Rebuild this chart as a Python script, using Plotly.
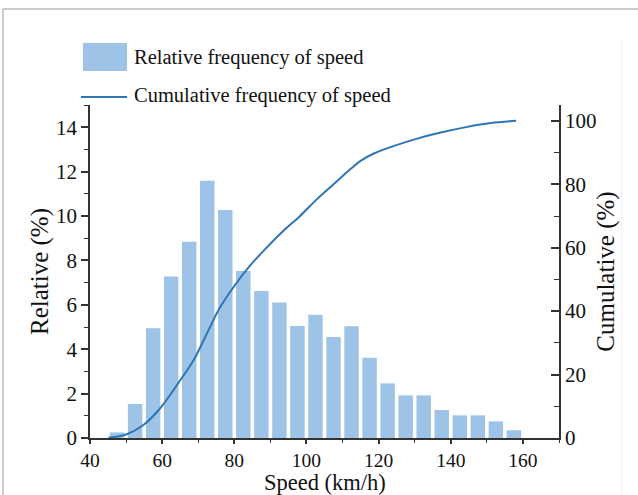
import plotly.graph_objects as go

# Bin centres (km/h) and relative frequency (%)
speed_bins = [47.5, 52.5, 57.5, 62.5, 67.5, 72.5, 77.5, 82.5, 87.5, 92.5, 97.5, 102.5,
              107.5, 112.5, 117.5, 122.5, 127.5, 132.5, 137.5, 142.5, 147.5, 152.5, 157.5]
relative_freq = [0.25, 1.53, 4.94, 7.27, 8.84, 11.59, 10.27, 7.52, 6.62, 6.10, 5.04, 5.55,
                 4.55, 5.03, 3.62, 2.46, 1.92, 1.92, 1.26, 1.02, 1.02, 0.75, 0.35]

# Cumulative frequency curve (%)
cum_speed = [45.1, 50.2, 54.8, 59.4, 65.0, 68.7, 72.4, 75.6, 79.8, 84.4, 89.1, 93.7,
             98.3, 103.0, 107.6, 112.2, 115.0, 118.7, 124.3, 130.7, 137.2, 144.6,
             151.1, 158.1]
cum_freq = [0.1, 1.2, 4.1, 9.3, 18.2, 24.5, 32.9, 40.3, 47.6, 54.4, 60.2, 65.4,
            70.1, 75.4, 80.1, 84.8, 87.4, 89.7, 92.1, 94.4, 96.3, 98.1,
            99.3, 100.0]

legend_labels = ["Relative frequency of speed", "Cumulative frequency of speed"]
x_title = "Speed (km/h)"

bar_color = "#9DC3E6"
line_color = "#2E75B6"
font_family = "Liberation Serif"
axis_color = "#333333"

fig = go.Figure()
fig.add_trace(go.Bar(x=speed_bins, y=relative_freq, marker=dict(color=bar_color, line=dict(width=0)),
                     name=legend_labels[0], yaxis="y", showlegend=False))
fig.add_trace(go.Scatter(x=cum_speed, y=cum_freq, mode="lines", name=legend_labels[1],
                         line=dict(color=line_color, width=2, shape="spline", smoothing=1.0),
                         yaxis="y2", showlegend=False))

L, R, T, B = 90, 79, 105, 57
W, H = 638, 495
pw, ph = W - L - R, H - T - B


def px(xp):
    return (xp - L) / pw


def py(yp):
    return (H - B - yp) / ph


shapes = [
    # outer frame
    dict(type="line", xref="paper", yref="paper", x0=px(3), x1=px(700), y0=py(9), y1=py(9),
         line=dict(color="#BDBDBD", width=1.5)),
    dict(type="line", xref="paper", yref="paper", x0=px(3), x1=px(3), y0=py(9), y1=py(520),
         line=dict(color="#BDBDBD", width=1.5)),
    dict(type="line", xref="paper", yref="paper", x0=px(621.5), x1=px(621.5), y0=py(40), y1=py(520),
         line=dict(color="#F2F2F2", width=1)),
    # legend swatches
    dict(type="rect", xref="paper", yref="paper", x0=px(83), x1=px(127), y0=py(71), y1=py(43),
         fillcolor=bar_color, line=dict(width=0)),
    dict(type="line", xref="paper", yref="paper", x0=px(81), x1=px(127), y0=py(97), y1=py(97),
         line=dict(color=line_color, width=2)),
]

annotations = [
    dict(text=legend_labels[0], xref="paper", yref="paper", x=px(132), y=py(58),
         xanchor="left", yanchor="middle", showarrow=False,
         font=dict(family=font_family, size=20.5, color="#111111")),
    dict(text=legend_labels[1], xref="paper", yref="paper", x=px(132), y=py(95),
         xanchor="left", yanchor="middle", showarrow=False,
         font=dict(family=font_family, size=20.5, color="#111111")),
    dict(text=x_title, xref="paper", yref="paper", x=0.5, y=py(496), borderpad=0,
         xanchor="center", yanchor="bottom", showarrow=False,
         font=dict(family=font_family, size=22.5, color="#111111")),
]

fig.update_layout(
    width=W, height=H,
    margin=dict(l=L, r=R, t=T, b=B, autoexpand=False),
    paper_bgcolor="white", plot_bgcolor="white",
    bargap=0.2,
    font=dict(family=font_family, size=20, color="#111111"),
    shapes=shapes, annotations=annotations,
    xaxis=dict(range=[40, 170], tickvals=[40, 60, 80, 100, 120, 140, 160],
               showgrid=False, zeroline=False, showline=True, linecolor=axis_color, linewidth=1.5,
               ticks="outside", ticklen=4, tickwidth=1.5, tickcolor=axis_color,
               minor=dict(dtick=10, ticks="outside", ticklen=3, tickwidth=1.2, tickcolor=axis_color,
                          showgrid=False),
               tickfont=dict(size=19.5)),
    yaxis=dict(range=[0, 15], tickvals=[0, 2, 4, 6, 8, 10, 12, 14],
               showgrid=False, zeroline=False, showline=True, linecolor=axis_color, linewidth=1.5,
               ticks="outside", ticklen=7, tickwidth=1.5, tickcolor=axis_color,
               minor=dict(dtick=1, ticks="outside", ticklen=4, tickwidth=1.2, tickcolor=axis_color,
                          showgrid=False),
               title=dict(text="Relative (%)", font=dict(size=25), standoff=0),
               tickfont=dict(size=21)),
    yaxis2=dict(range=[0, 105], tickvals=[0, 20, 40, 60, 80, 100], overlaying="y", side="right",
                showgrid=False, zeroline=False, showline=True, linecolor=axis_color, linewidth=1.5,
                ticks="inside", ticklen=8, tickwidth=1.5, tickcolor=axis_color,
                minor=dict(dtick=10, ticks="inside", ticklen=5, tickwidth=1.2, tickcolor=axis_color,
                           showgrid=False),
                title=dict(text="Cumulative (%)", font=dict(size=25), standoff=1),
                tickfont=dict(size=21)),
)

fig.write_html("out.html")
